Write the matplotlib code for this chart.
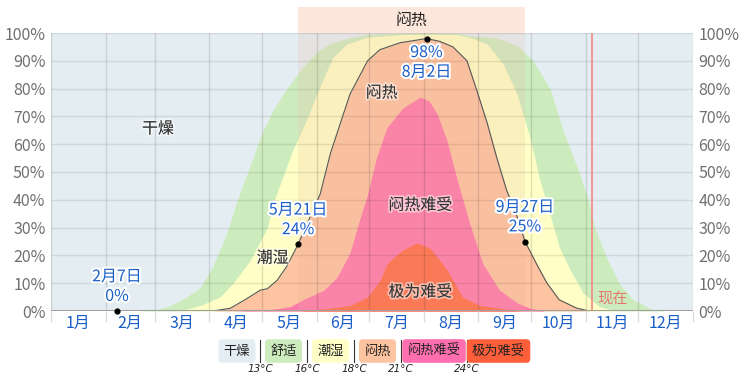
import numpy as np
import matplotlib
matplotlib.use("Agg")
import matplotlib.pyplot as plt
import matplotlib.patheffects as pe
from matplotlib.patches import Rectangle

plt.rcParams['font.family'] = ['Noto Sans CJK SC', 'DejaVu Sans']

months = ['1月', '2月', '3月', '4月', '5月', '6月', '7月', '8月', '9月', '10月', '11月', '12月']
month_start = [0, 31, 59, 90, 120, 151, 181, 212, 243, 273, 304, 334, 365]

# 露点 >= 13°C (舒适 以上)
day_13 = [0, 50, 60, 68, 77, 85, 92, 100, 106, 113, 120, 126, 132, 141, 147, 153, 160, 168, 180, 200,
          230, 238, 250, 257, 266, 274, 279, 284, 291, 299, 305, 309, 316, 323, 331, 342, 350, 365]
pct_13 = [0, 0, 0.5, 2, 5, 8.5, 16, 28, 40, 52, 64, 72, 78, 86, 90.5, 94, 96.5, 98, 99.5, 100,
          100, 99, 98.5, 97.5, 95, 90, 85, 79.5, 65, 52, 41, 30, 19, 10, 4, 0.5, 0, 0]

# 露点 >= 16°C (潮湿 以上)
day_16 = [0, 73, 85, 96, 103.5, 113, 123, 127, 137.5, 145.5, 152, 160, 168, 180, 200,
          230, 238, 248, 257, 265, 272, 278, 284, 289, 295, 302.5, 312, 322, 365]
pct_16 = [0, 0, 2, 5, 10, 18, 30, 40, 58, 69, 79.5, 91, 96, 98.5, 99.5,
          99.5, 98.5, 96, 89, 78, 63, 47, 34, 23, 15, 6.5, 1.5, 0, 0]

# 露点 >= 18°C (闷热 以上)
day_18 = [0, 92, 102, 111.5, 119, 123, 128.5, 134, 140.5, 153, 159, 170, 180, 187, 198.5, 213.5,
          221, 228.5, 236.5, 242, 248, 253.5, 259, 265, 269.5, 276, 282, 289, 299, 306, 365]
pct_18 = [0, 0, 1, 4.5, 7.5, 8, 11, 16, 24, 42, 57, 78, 90, 94, 96.5, 98,
          97, 95, 90, 79.5, 67.6, 55, 43.5, 34, 25, 17, 10, 4, 1, 0, 0]

# 露点 >= 21°C (闷热难受 以上)
day_21 = [0, 103.5, 124.5, 136, 143, 155, 162.5, 170, 175.5, 180, 185, 191, 200, 210,
          215, 219.5, 225, 231, 238, 245.5, 255, 265, 272, 281, 365]
pct_21 = [0, 0, 0.5, 1.5, 4, 7.5, 12, 21, 33, 42, 55, 66, 73, 77,
          75.5, 71, 61.5, 47, 31.6, 17, 7.5, 3, 1, 0, 0]

# 露点 >= 24°C (极为难受)
day_24 = [0, 141.5, 158.6, 170, 180, 187, 191, 200, 208, 215.5, 225, 234, 244, 255, 266.5, 365]
pct_24 = [0, 0, 1, 2, 5, 11, 17, 22, 24.5, 22.6, 15, 5, 2, 1, 0, 0]

band_colors = ['#cdecbd', '#fefec6', '#fec3a0', '#ff78ab', '#ff6b47']

# 标注
marks_day = [37.5, 140.5, 213.5, 269.5]
marks_pct = [0, 24, 98, 25]
marks_text = ['2月7日\n0%', '5月21日\n24%', '98%\n8月2日', '9月27日\n25%']

muggy_start, muggy_end = 140.5, 269.5
now_day = 307.5

legend_names = ['干燥', '舒适', '潮湿', '闷热', '闷热难受', '极为难受']
legend_colors = ['#e4eef2', '#cdecbd', '#fefec6', '#fec3a0', '#ff6fb0', '#ff5e3a']
legend_temps = ['13°C', '16°C', '18°C', '21°C', '24°C']

fig = plt.figure(figsize=(7.49, 3.81), dpi=100)
ax = fig.add_axes([51 / 749, 70 / 381, 642 / 749, 278 / 381])
ax.set_facecolor('#e4eef2')

days_list = [day_13, day_16, day_18, day_21, day_24]
pcts_list = [pct_13, pct_16, pct_18, pct_21, pct_24]
for d, p, c in zip(days_list, pcts_list, band_colors):
    ax.fill_between(d, 0, p, color=c, lw=0, zorder=1)
ax.plot(day_18, pct_18, color='#555555', lw=0.8, zorder=3)

# 闷热时期
ax.add_patch(Rectangle((muggy_start, 0), muggy_end - muggy_start, 100, color='#e8b8a0',
                       alpha=0.2, lw=0, zorder=2))
ax.add_patch(Rectangle((muggy_start, 100), muggy_end - muggy_start, 9.4, color='#fde7dc',
                       lw=0, zorder=2, clip_on=False))
ax.text((muggy_start + muggy_end) / 2, 104.7, '闷热', ha='center', va='center',
        fontsize=11.5, color='#222222', zorder=6, clip_on=False)

ax.set_xlim(0, 365)
ax.set_ylim(0, 100)
ax.set_yticks(np.arange(0, 101, 10))
ax.set_yticklabels([f'{v}%' for v in range(0, 101, 10)])
ax.set_xticks([(month_start[i] + month_start[i + 1]) / 2 for i in range(12)])
ax.set_xticklabels(months)
ax.set_xticks(month_start, minor=True)
ax.tick_params(axis='x', which='major', length=0, labelsize=11.5, labelcolor='#1a5ec8', pad=3)
ax.tick_params(axis='x', which='minor', length=8, color='#d8dde0', width=1)
ax.tick_params(axis='y', length=0, labelsize=11.5, labelcolor='#707070', labelright=True, pad=4)
for s in ax.spines.values():
    s.set_visible(False)
ax.grid(axis='y', which='major', color='#000000', alpha=0.09, lw=1, zorder=4)
ax.grid(axis='x', which='minor', color='#000000', alpha=0.12, lw=1, zorder=4)
ax.set_axisbelow(False)
ax.axhline(0, color='#a0a0a0', lw=1.5, zorder=5)

ax.axvline(now_day, color='#f08a84', lw=1.2, zorder=5)
ax.text(now_day + 3, 4.7, '现在', color='#e07a70', fontsize=11, va='center', ha='left', zorder=6)

halo = [pe.withStroke(linewidth=3, foreground='white')]
ax.scatter(marks_day, marks_pct, s=12, color='black', zorder=7, clip_on=False)
for d, p, t in zip(marks_day, marks_pct, marks_text):
    if p > 90:
        ax.text(d, p - 2, t, ha='center', va='top', fontsize=11.5, color='#1a5ec8',
                linespacing=1.2, path_effects=halo, zorder=8)
    else:
        ax.text(d, p + 2.2, t, ha='center', va='bottom', fontsize=11.5, color='#1a5ec8',
                linespacing=1.2, path_effects=halo, zorder=8)

zone_halo = [pe.withStroke(linewidth=2.5, foreground=(1, 1, 1, 0.5))]
zones = [('干燥', 60.8, 65.5), ('潮湿', 126, 19), ('闷热', 188, 78.4),
         ('闷热难受', 210, 38), ('极为难受', 210, 6.8)]
for t, d, p in zones:
    ax.text(d, p, t, ha='center', va='center', fontsize=11.5, color='#333333',
            path_effects=zone_halo, zorder=6)

# 图例
box_x = [237, 283.5, 330.5, 377.5, 434, 498.5]
for name, c, x in zip(legend_names, legend_colors, box_x):
    fig.text(x / 749, 1 - 351 / 381, name, ha='center', va='center', fontsize=9.5, color='#222222',
             bbox=dict(boxstyle='round,pad=0.4,rounding_size=0.3', fc=c, ec='none'))
sep_x = [260, 307, 354, 401, 467]
for t, x in zip(legend_temps, sep_x):
    fig.add_artist(plt.Line2D([x / 749, x / 749], [1 - 340 / 381, 1 - 362 / 381],
                              color='#333333', lw=0.8))
    fig.text(x / 749, 1 - 369 / 381, t, ha='center', va='center', fontsize=7.5,
             style='italic', color='#222222', family=['DejaVu Sans'])

fig.savefig('out.png', dpi=100)
